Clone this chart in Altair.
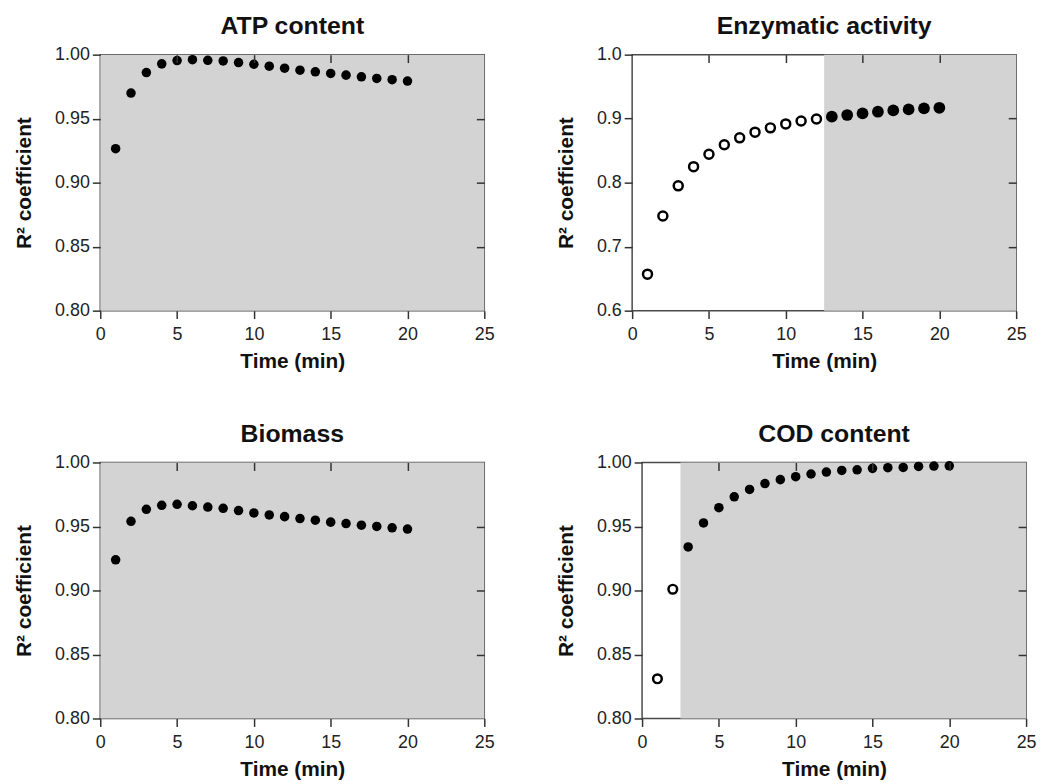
import altair as alt
import pandas as pd

time_min = list(range(1, 21))

atp = [0.9265, 0.970, 0.986, 0.9928, 0.9954, 0.9961, 0.9956, 0.9951, 0.9938, 0.9925,
       0.991, 0.9894, 0.9879, 0.9866, 0.9853, 0.984, 0.9827, 0.9814, 0.9804, 0.9794]
enzymatic = [0.657, 0.748, 0.795, 0.825, 0.8443, 0.8593, 0.870, 0.8789, 0.8856, 0.8918,
             0.8964, 0.8995, 0.9031, 0.9057, 0.9082, 0.9108, 0.9129, 0.9144, 0.916, 0.917]
biomass = [0.924, 0.954, 0.9634, 0.9665, 0.9673, 0.9662, 0.9652, 0.9642, 0.9624, 0.9606,
           0.959, 0.9577, 0.9562, 0.9549, 0.9534, 0.9523, 0.951, 0.950, 0.949, 0.948]
cod = [0.831, 0.901, 0.934, 0.9528, 0.9647, 0.9732, 0.9789, 0.9835, 0.9866, 0.9889,
       0.991, 0.9925, 0.9938, 0.9943, 0.9954, 0.9959, 0.9961, 0.9969, 0.9972, 0.9974]

titles = ["ATP content", "Enzymatic activity", "Biomass", "COD content"]
shade_start = [0, 12.5, 0, 2.5]
y_domains = [[0.80, 1.00], [0.6, 1.0], [0.80, 1.00], [0.80, 1.00]]
y_ticks = [[0.80, 0.85, 0.90, 0.95, 1.00], [0.6, 0.7, 0.8, 0.9, 1.0],
           [0.80, 0.85, 0.90, 0.95, 1.00], [0.80, 0.85, 0.90, 0.95, 1.00]]
y_formats = [".2f", ".1f", ".2f", ".2f"]
x_ticks = [0, 5, 10, 15, 20, 25]
x_domain = [0, 25]
filled_sizes = [92, 140, 92, 92]
open_sizes = [72, 82, 72, 76]

FONT = "Liberation Sans"
W, H = 387, 258
TICK = "#333333"


def panel(i, values):
    df = pd.DataFrame({"t": time_min, "r": values})
    df["filled"] = df["t"] > shade_start[i]
    shade = pd.DataFrame({"x0": [shade_start[i]], "x1": [x_domain[1]],
                          "y0": [y_domains[i][0]], "y1": [y_domains[i][1]]})
    xs = alt.Scale(domain=x_domain, nice=False, zero=False)
    ys = alt.Scale(domain=y_domains[i], nice=False, zero=False)

    bottom_axis = alt.Axis(orient="bottom", values=x_ticks, format="d", grid=False,
                           domain=False, tickSize=8, tickWidth=1.5, tickColor=TICK,
                           labelPadding=7, labelFlush=False, title="Time (min)",
                           titlePadding=7, zindex=1)
    left_axis = alt.Axis(orient="left", values=y_ticks[i], format=y_formats[i], grid=False,
                         domain=False, tickSize=8, tickWidth=1.5, tickColor=TICK,
                         labelPadding=3, labelFlush=False, title="R² coefficient",
                         titlePadding=20, zindex=1)
    top_axis = alt.Axis(orient="top", values=x_ticks[1:-1], grid=False, domain=False,
                        labels=False, tickSize=8, tickWidth=1.5, tickColor=TICK,
                        offset=-8, title=None, zindex=1)
    right_axis = alt.Axis(orient="right", values=y_ticks[i][1:-1], grid=False, domain=False,
                          labels=False, tickSize=8, tickWidth=1.5, tickColor=TICK,
                          offset=-8, title=None, zindex=1)

    rect = alt.Chart(shade).mark_rect(color="#d3d3d3").encode(
        x=alt.X("x0:Q", scale=xs, axis=bottom_axis),
        x2="x1:Q",
        y=alt.Y("y0:Q", scale=ys, axis=left_axis),
        y2="y1:Q",
    )
    filled = alt.Chart(df).transform_filter("datum.filled").mark_point(
        filled=True, color="#000000", size=filled_sizes[i], opacity=1, shape="circle"
    ).encode(
        x=alt.X("t:Q", scale=xs, axis=top_axis),
        y=alt.Y("r:Q", scale=ys, axis=right_axis),
    )
    layers = [rect, filled]
    if not df["filled"].all():
        hollow = alt.Chart(df).transform_filter("!datum.filled").mark_point(
            filled=False, color="#000000", size=open_sizes[i], strokeWidth=2.5,
            opacity=1, shape="circle"
        ).encode(
            x=alt.X("t:Q", scale=xs, axis=None),
            y=alt.Y("r:Q", scale=ys, axis=None),
        )
        layers.append(hollow)
    return alt.layer(*layers).resolve_axis(x="independent", y="independent").properties(
        width=W, height=H,
        title=alt.TitleParams(titles[i], fontSize=25, fontWeight="bold", font=FONT,
                              offset=7, color="#111111"),
    )


series = [atp, enzymatic, biomass, cod]
row1 = alt.hconcat(panel(0, series[0]), panel(1, series[1]), spacing=60)
row2 = alt.hconcat(panel(2, series[2]), panel(3, series[3]), spacing=60)
chart = alt.vconcat(row1, row2, spacing=49).properties(
    padding={"left": 5, "top": 2, "right": 0, "bottom": 0}
).configure_view(
    stroke="#4a4a4a", strokeWidth=1.5
).configure_axis(
    labelFont=FONT, labelFontSize=18, labelColor="#222222",
    titleFont=FONT, titleFontSize=21, titleFontWeight="bold", titleColor="#111111",
)

chart.save("out.html", embed_options={"renderer": "svg", "actions": False})
